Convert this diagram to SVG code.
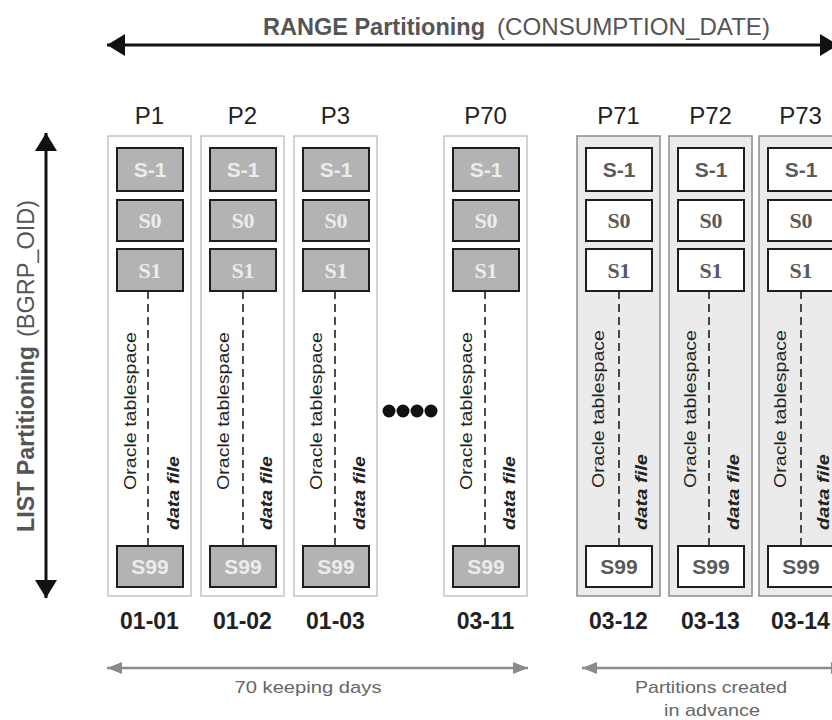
<svg xmlns="http://www.w3.org/2000/svg" width="832" height="720" viewBox="0 0 832 720">
<style>
.bg{fill:#ffffff}
.old{fill:#ffffff;stroke:#c4c4c4;stroke-width:1.5}
.new{fill:#ebebeb;stroke:#8c8c8c;stroke-width:1.5}
.sg{fill:#b3b3b3;stroke:#1e1e1e;stroke-width:2}
.sw{fill:#ffffff;stroke:#1e1e1e;stroke-width:2}
.tg{fill:#ececec}
.tw{fill:#5a5a5a}
.sans{font-family:"Liberation Sans",Arial,sans-serif;font-weight:bold;font-size:21px;text-anchor:middle}
.serif{font-family:"Liberation Serif","Times New Roman",serif;font-weight:bold;font-size:22px;text-anchor:middle}
.dash{stroke:#1e1e1e;stroke-width:1.6;stroke-dasharray:8 5}
.ora{font-family:"Liberation Sans",Arial,sans-serif;font-size:17px;fill:#222}
.df{font-family:"Liberation Sans",Arial,sans-serif;font-size:16px;font-weight:bold;font-style:italic;fill:#222}
.plab{font-family:"Liberation Sans",Arial,sans-serif;font-size:24px;fill:#222;text-anchor:middle}
.date{font-family:"Liberation Sans",Arial,sans-serif;font-size:23px;font-weight:bold;fill:#222;text-anchor:middle}
.axis{font-family:"Liberation Sans",Arial,sans-serif;font-size:24px;fill:#555}
.note{font-family:"Liberation Sans",Arial,sans-serif;font-size:17px;fill:#666;text-anchor:middle}
.blk{stroke:#111;stroke-width:3;fill:none}
.gry{stroke:#8a8a8a;stroke-width:2.5;fill:none}
</style>
<defs>
<marker id="ah" viewBox="0 0 18 22" markerWidth="18" markerHeight="22" refX="18" refY="11" orient="auto-start-reverse" markerUnits="userSpaceOnUse">
<path d="M0,0 L18,11 L0,22 z" fill="#111"/>
</marker>
<marker id="ahg" viewBox="0 0 15 12" markerWidth="15" markerHeight="12" refX="15" refY="6" orient="auto-start-reverse" markerUnits="userSpaceOnUse">
<path d="M0,0 L15,6 L0,12 z" fill="#8a8a8a"/>
</marker>
</defs>
<rect class="bg" x="0" y="0" width="832" height="720"/>

<g id="axes">
<text class="axis" y="35"><tspan x="263" font-weight="bold" textLength="222" lengthAdjust="spacingAndGlyphs">RANGE Partitioning</tspan><tspan x="497" textLength="273" lengthAdjust="spacingAndGlyphs">(CONSUMPTION_DATE)</tspan></text>
<g transform="translate(34,532) rotate(-90)">
<text class="axis"><tspan x="0" font-weight="bold" textLength="186" lengthAdjust="spacingAndGlyphs">LIST Partitioning</tspan><tspan x="195" textLength="137" lengthAdjust="spacingAndGlyphs">(BGRP_OID)</tspan></text>
</g>
</g>

<g id="connectors">
<line class="blk" x1="107" y1="45" x2="838" y2="45" marker-start="url(#ah)" marker-end="url(#ah)"/>
<line class="blk" x1="46" y1="133" x2="46" y2="598" marker-start="url(#ah)" marker-end="url(#ah)"/>
<line class="gry" x1="107" y1="668" x2="528" y2="668" marker-start="url(#ahg)" marker-end="url(#ahg)"/>
<line class="gry" x1="582" y1="668" x2="846" y2="668" marker-start="url(#ahg)" marker-end="url(#ahg)"/>
</g>

<g id="P1" transform="translate(108,0)">
<text class="plab" x="41.5" y="124">P1</text>
<rect class="old" x="0" y="136" width="83" height="460"/>
<rect class="sg" x="9" y="148" width="66" height="43"/><text class="sans tg" x="42" y="177">S-1</text>
<rect class="sg" x="9" y="200" width="66" height="41"/><text class="serif tg" x="42" y="228">S0</text>
<rect class="sg" x="9" y="249" width="66" height="42"/><text class="serif tg" x="42" y="278">S1</text>
<line class="dash" x1="40" y1="291" x2="40" y2="546"/>
<text class="ora" transform="translate(28,490) rotate(-90)" textLength="158" lengthAdjust="spacingAndGlyphs">Oracle tablespace</text>
<text class="df" transform="translate(71,530) rotate(-90)" textLength="74" lengthAdjust="spacingAndGlyphs">data file</text>
<rect class="sg" x="9" y="546" width="66" height="41"/><text class="sans tg" x="42" y="574">S99</text>
<text class="date" x="41.5" y="629">01-01</text>
</g>

<g id="P2" transform="translate(201,0)">
<text class="plab" x="41.5" y="124">P2</text>
<rect class="old" x="0" y="136" width="83" height="460"/>
<rect class="sg" x="9" y="148" width="66" height="43"/><text class="sans tg" x="42" y="177">S-1</text>
<rect class="sg" x="9" y="200" width="66" height="41"/><text class="serif tg" x="42" y="228">S0</text>
<rect class="sg" x="9" y="249" width="66" height="42"/><text class="serif tg" x="42" y="278">S1</text>
<line class="dash" x1="42" y1="291" x2="42" y2="546"/>
<text class="ora" transform="translate(28,490) rotate(-90)" textLength="158" lengthAdjust="spacingAndGlyphs">Oracle tablespace</text>
<text class="df" transform="translate(71,530) rotate(-90)" textLength="74" lengthAdjust="spacingAndGlyphs">data file</text>
<rect class="sg" x="9" y="546" width="66" height="41"/><text class="sans tg" x="42" y="574">S99</text>
<text class="date" x="41.5" y="629">01-02</text>
</g>

<g id="P3" transform="translate(294,0)">
<text class="plab" x="41.5" y="124">P3</text>
<rect class="old" x="0" y="136" width="83" height="460"/>
<rect class="sg" x="9" y="148" width="66" height="43"/><text class="sans tg" x="42" y="177">S-1</text>
<rect class="sg" x="9" y="200" width="66" height="41"/><text class="serif tg" x="42" y="228">S0</text>
<rect class="sg" x="9" y="249" width="66" height="42"/><text class="serif tg" x="42" y="278">S1</text>
<line class="dash" x1="41" y1="291" x2="41" y2="546"/>
<text class="ora" transform="translate(28,490) rotate(-90)" textLength="158" lengthAdjust="spacingAndGlyphs">Oracle tablespace</text>
<text class="df" transform="translate(71,530) rotate(-90)" textLength="74" lengthAdjust="spacingAndGlyphs">data file</text>
<rect class="sg" x="9" y="546" width="66" height="41"/><text class="sans tg" x="42" y="574">S99</text>
<text class="date" x="41.5" y="629">01-03</text>
</g>

<g id="ellipsis">
<circle cx="389" cy="411" r="6.5" fill="#111"/>
<circle cx="403" cy="411" r="6.5" fill="#111"/>
<circle cx="417" cy="411" r="6.5" fill="#111"/>
<circle cx="431" cy="411" r="6.5" fill="#111"/>
</g>

<g id="P70" transform="translate(444,0)">
<text class="plab" x="41.5" y="124">P70</text>
<rect class="old" x="0" y="136" width="83" height="460"/>
<rect class="sg" x="9" y="148" width="66" height="43"/><text class="sans tg" x="42" y="177">S-1</text>
<rect class="sg" x="9" y="200" width="66" height="41"/><text class="serif tg" x="42" y="228">S0</text>
<rect class="sg" x="9" y="249" width="66" height="42"/><text class="serif tg" x="42" y="278">S1</text>
<line class="dash" x1="41" y1="291" x2="41" y2="546"/>
<text class="ora" transform="translate(28,490) rotate(-90)" textLength="158" lengthAdjust="spacingAndGlyphs">Oracle tablespace</text>
<text class="df" transform="translate(71,530) rotate(-90)" textLength="74" lengthAdjust="spacingAndGlyphs">data file</text>
<rect class="sg" x="9" y="546" width="66" height="41"/><text class="sans tg" x="42" y="574">S99</text>
<text class="date" x="41.5" y="629">03-11</text>
</g>

<g id="P71" transform="translate(577,0)">
<text class="plab" x="41.5" y="124">P71</text>
<rect class="new" x="0" y="136" width="83" height="460"/>
<rect class="sw" x="9" y="148" width="66" height="43"/><text class="sans tw" x="42" y="177">S-1</text>
<rect class="sw" x="9" y="200" width="66" height="41"/><text class="serif tw" x="42" y="228">S0</text>
<rect class="sw" x="9" y="249" width="66" height="42"/><text class="serif tw" x="42" y="278">S1</text>
<line class="dash" x1="42" y1="291" x2="42" y2="546"/>
<text class="ora" transform="translate(27,488) rotate(-90)" textLength="158" lengthAdjust="spacingAndGlyphs">Oracle tablespace</text>
<text class="df" transform="translate(70,530) rotate(-90)" textLength="76" lengthAdjust="spacingAndGlyphs">data file</text>
<rect class="sw" x="9" y="546" width="66" height="41"/><text class="sans tw" x="42" y="574">S99</text>
<text class="date" x="41.5" y="629">03-12</text>
</g>

<g id="P72" transform="translate(669,0)">
<text class="plab" x="41.5" y="124">P72</text>
<rect class="new" x="0" y="136" width="83" height="460"/>
<rect class="sw" x="9" y="148" width="66" height="43"/><text class="sans tw" x="42" y="177">S-1</text>
<rect class="sw" x="9" y="200" width="66" height="41"/><text class="serif tw" x="42" y="228">S0</text>
<rect class="sw" x="9" y="249" width="66" height="42"/><text class="serif tw" x="42" y="278">S1</text>
<line class="dash" x1="40" y1="291" x2="40" y2="546"/>
<text class="ora" transform="translate(27,488) rotate(-90)" textLength="158" lengthAdjust="spacingAndGlyphs">Oracle tablespace</text>
<text class="df" transform="translate(70,530) rotate(-90)" textLength="76" lengthAdjust="spacingAndGlyphs">data file</text>
<rect class="sw" x="9" y="546" width="66" height="41"/><text class="sans tw" x="42" y="574">S99</text>
<text class="date" x="41.5" y="629">03-13</text>
</g>

<g id="P73" transform="translate(759,0)">
<text class="plab" x="41.5" y="124">P73</text>
<rect class="new" x="0" y="136" width="83" height="460"/>
<rect class="sw" x="9" y="148" width="66" height="43"/><text class="sans tw" x="42" y="177">S-1</text>
<rect class="sw" x="9" y="200" width="66" height="41"/><text class="serif tw" x="42" y="228">S0</text>
<rect class="sw" x="9" y="249" width="66" height="42"/><text class="serif tw" x="42" y="278">S1</text>
<line class="dash" x1="42" y1="291" x2="42" y2="546"/>
<text class="ora" transform="translate(27,488) rotate(-90)" textLength="158" lengthAdjust="spacingAndGlyphs">Oracle tablespace</text>
<text class="df" transform="translate(70,530) rotate(-90)" textLength="76" lengthAdjust="spacingAndGlyphs">data file</text>
<rect class="sw" x="9" y="546" width="66" height="41"/><text class="sans tw" x="42" y="574">S99</text>
<text class="date" x="41.5" y="629">03-14</text>
</g>

<g id="notes">
<text class="note" x="308" y="693" textLength="147" lengthAdjust="spacingAndGlyphs">70 keeping days</text>
<text class="note" x="711" y="693" textLength="152" lengthAdjust="spacingAndGlyphs">Partitions created</text>
<text class="note" x="712" y="716" textLength="96" lengthAdjust="spacingAndGlyphs">in advance</text>
</g>
</svg>
